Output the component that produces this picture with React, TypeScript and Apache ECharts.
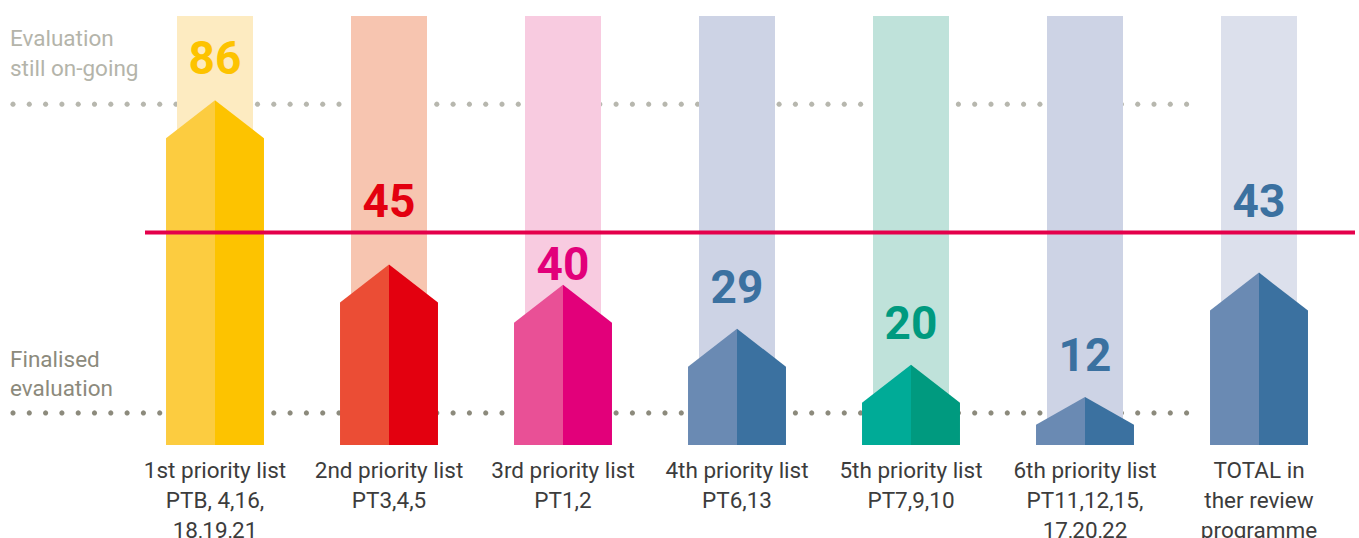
import React, { useEffect, useRef } from "react";
import * as echarts from "echarts";

const categories = [
  "1st priority list\nPTB, 4,16,\n18,19,21",
  "2nd priority list\nPT3,4,5",
  "3rd priority list\nPT1,2",
  "4th priority list\nPT6,13",
  "5th priority list\nPT7,9,10",
  "6th priority list\nPT11,12,15,\n17,20,22",
  "TOTAL in\nther review\nprogramme",
];
const values = [86, 45, 40, 29, 20, 12, 43];
const lightColors = ["#FCCC40", "#EB4D35", "#E95096", "#6A8AB3", "#00AB97", "#6A8AB3", "#6A8AB3"];
const darkColors = ["#FDC300", "#E3000F", "#E2007A", "#3B71A0", "#009A7F", "#3B71A0", "#3B71A0"];
const bgColors = ["#FDEBC1", "#F7C5B0", "#F8CBE0", "#CDD3E5", "#BFE2DA", "#CDD3E5", "#DCE0EC"];
const labelColors = ["#FDC300", "#E3000F", "#E2007A", "#3B71A0", "#009A7F", "#3B71A0", "#3B71A0"];

const yMax = 107;
const backgroundTop = 107;
const redLineValue = 53;
const ongoingLevel = 85;
const finalisedLevel = 8;

export default function App() {
  const ref = useRef<HTMLDivElement>(null);
  useEffect(() => {
    document.body.style.margin = "0";
    const chart = echarts.init(ref.current!, null, { renderer: "svg" });
    const font = "Roboto, 'Noto Sans', sans-serif";
    chart.setOption({
      animation: false,
      grid: { left: 128, right: 13, top: 16, bottom: 93, outerBoundsMode: "none", containLabel: false },
      xAxis: {
        type: "category",
        data: categories,
        axisLine: { show: false },
        axisTick: { show: false },
        axisLabel: {
          interval: 0,
          fontSize: 22.5,
          lineHeight: 30,
          color: "#3C3C3C",
          fontFamily: font,
          margin: 10,
        },
      },
      yAxis: { type: "value", min: 0, max: yMax, show: false, splitLine: { show: false } },
      series: [
        {
          type: "bar",
          z: 2,
          barWidth: 76,
          silent: true,
          data: categories.map((_, i) => ({ value: backgroundTop, itemStyle: { color: bgColors[i] } })),
        },
        {
          type: "custom",
          z: 3,
          silent: true,
          encode: { x: 0, y: 1 },
          data: values.map((v, i) => [i, v]),
          renderItem: (params: any, api: any) => {
            const idx = api.value(0);
            const v = api.value(1);
            const [cx, peakY] = api.coord([idx, v]);
            const baseY = api.coord([idx, 0])[1];
            const redY = api.coord([idx, redLineValue])[1];
            const band = api.size([1, 0])[0];
            const half = (band * 0.563) / 2;
            const tri = Math.min(38, 0.58 * (baseY - peakY));
            const sh = peakY + tri;
            let labelY = peakY - 42;
            if (Math.abs(labelY - redY) < 30) {
              labelY = labelY <= redY ? redY - 32 : redY + 31;
            }
            return {
              type: "group",
              children: [
                {
                  type: "polygon",
                  shape: { points: [[cx - half, baseY], [cx - half, sh], [cx, peakY], [cx, baseY]] },
                  style: { fill: lightColors[idx] },
                },
                {
                  type: "polygon",
                  shape: { points: [[cx, peakY], [cx + half, sh], [cx + half, baseY], [cx, baseY]] },
                  style: { fill: darkColors[idx] },
                },
                {
                  type: "text",
                  x: cx,
                  y: labelY,
                  style: {
                    text: String(v),
                    fill: labelColors[idx],
                    font: `bold 46px ${font}`,
                    textAlign: "center",
                    textVerticalAlign: "middle",
                  },
                },
              ],
            };
          },
        },
      ],
    });

    const yPix = (v: number) => chart.convertToPixel({ yAxisIndex: 0 }, v) as number;
    const topY = yPix(ongoingLevel);
    const botY = yPix(finalisedLevel);
    const redY = yPix(redLineValue);
    const dots: any[] = [];
    for (let x = 13; x <= 1200; x += 16.3) {
      dots.push({ type: "circle", z: 0, silent: true, shape: { cx: x, cy: topY, r: 2.6 }, style: { fill: "#B7B7AE" } });
      dots.push({ type: "circle", z: 0, silent: true, shape: { cx: x, cy: botY, r: 2.6 }, style: { fill: "#8C8A7C" } });
    }
    const textStyle = (text: string, y: number, color: string) => ({
      type: "text",
      z: 5,
      x: 10,
      y,
      style: { text, fill: color, font: `22.5px ${font}`, textVerticalAlign: "middle" },
    });
    chart.setOption({
      graphic: [
        ...dots,
        { type: "line", z: 10, silent: true, shape: { x1: 145, y1: redY, x2: 1355, y2: redY }, style: { stroke: "#E4004B", lineWidth: 4 } },
        textStyle("Evaluation", 38, "#B4B4AA"),
        textStyle("still on-going", 68, "#B4B4AA"),
        textStyle("Finalised", 359, "#8C8A7C"),
        textStyle("evaluation", 388, "#8C8A7C"),
      ],
    });
    return () => chart.dispose();
  }, []);
  return <div ref={ref} style={{ width: 1359, height: 538 }} />;
}
